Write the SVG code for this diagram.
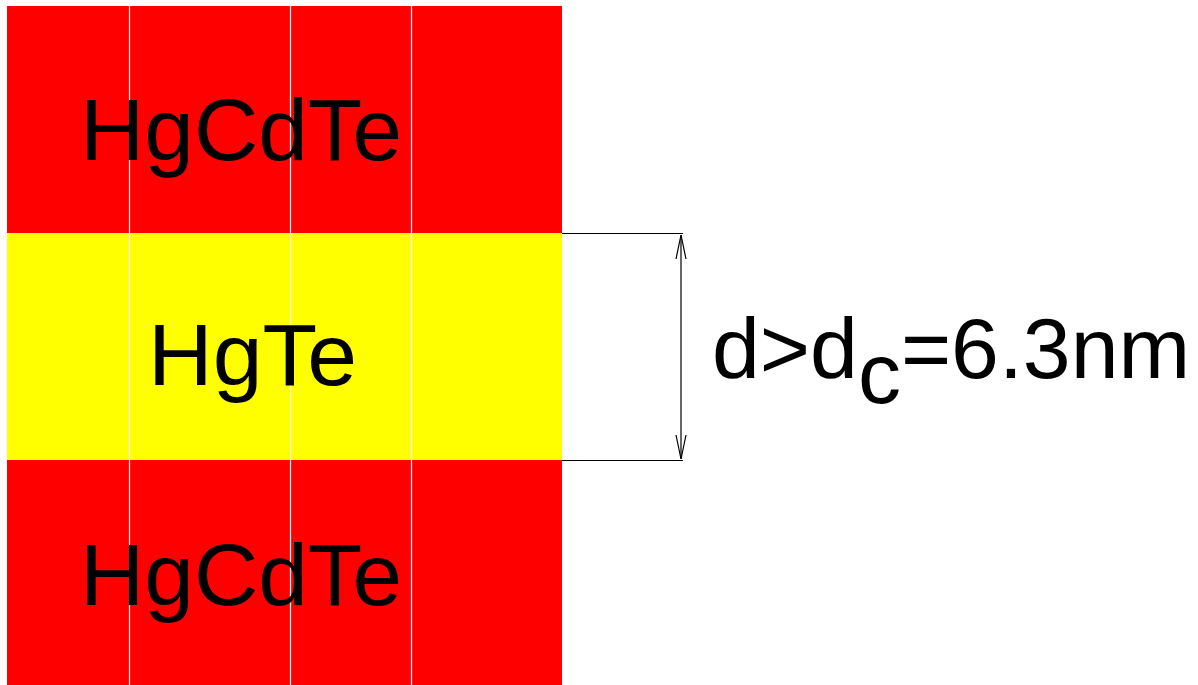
<svg xmlns="http://www.w3.org/2000/svg" width="1198" height="685" viewBox="0 0 1198 685">
<style>
.lbl{font-family:"Liberation Sans",Arial,sans-serif;font-size:88px;fill:#000}
.sep{stroke:#fff;stroke-width:1.2}
.dim{stroke:#000;stroke-width:1.2;fill:none}
</style>
<defs>
<marker id="ah" markerWidth="26" markerHeight="12" refX="25" refY="6" orient="auto-start-reverse" markerUnits="userSpaceOnUse" viewBox="0 0 26 12">
<path d="M1,1 L25,6 L1,11" fill="none" stroke="#000" stroke-width="1.2"/>
</marker>
</defs>
<rect width="1198" height="685" fill="#fff"/>
<g id="layer-top"><rect x="7" y="6" width="555" height="227" fill="#ff0000"/></g>
<g id="layer-mid"><rect x="7" y="233" width="555" height="227" fill="#ffff00"/></g>
<g id="layer-bot"><rect x="7" y="460" width="555" height="225" fill="#ff0000"/></g>
<g id="separators">
<line class="sep" x1="129.5" y1="6" x2="129.5" y2="685"/>
<line class="sep" x1="290.5" y1="6" x2="290.5" y2="685"/>
<line class="sep" x1="411.5" y1="6" x2="411.5" y2="685"/>
</g>
<g id="labels">
<text class="lbl" x="80" y="160" textLength="322" lengthAdjust="spacingAndGlyphs">HgCdTe</text>
<text class="lbl" x="148" y="385" textLength="209" lengthAdjust="spacingAndGlyphs">HgTe</text>
<text class="lbl" x="80" y="605" textLength="322" lengthAdjust="spacingAndGlyphs">HgCdTe</text>
</g>
<g id="connectors">
<line class="dim" x1="562" y1="233.5" x2="683" y2="233.5"/>
<line class="dim" x1="562" y1="460.5" x2="683" y2="460.5"/>
<line class="dim" x1="681" y1="235" x2="681" y2="459" marker-start="url(#ah)" marker-end="url(#ah)"/>
</g>
<g id="dim-label">
<text class="lbl" x="712" y="378" style="font-size:86px">d&gt;d<tspan dy="25">c</tspan><tspan dy="-25">=6.3nm</tspan></text>
</g>
</svg>
